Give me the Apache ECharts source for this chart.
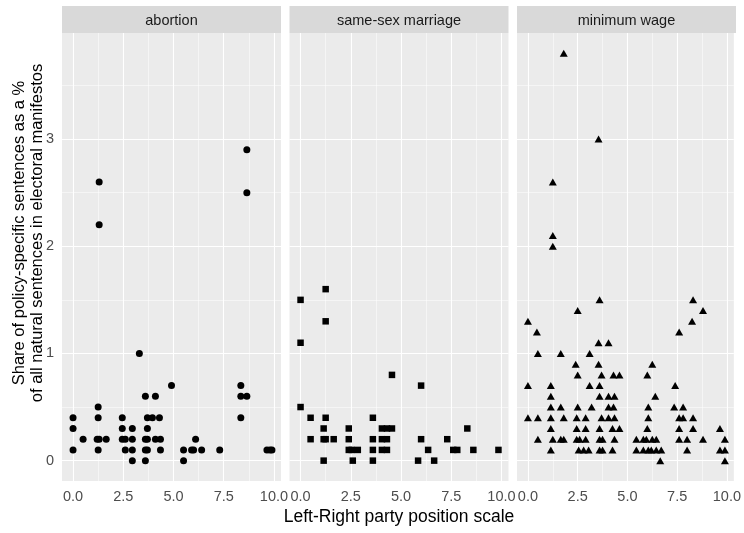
<!DOCTYPE html>
<html>
<head>
<meta charset="utf-8">
<script src="https://cdn.jsdelivr.net/npm/echarts@6/dist/echarts.min.js"></script>
<style>html,body{margin:0;padding:0;background:#fff}#c{width:744px;height:533px}</style>
</head>
<body>
<div id="c"></div>
<script>
const panelNames = ['abortion', 'same-sex marriage', 'minimum wage'];
const xMajor = [0, 2.5, 5, 7.5, 10];
const xMinor = [1.25, 3.75, 6.25, 8.75];
const yMajor = [0, 1, 2, 3];
const yMinor = [0.5, 1.5, 2.5, 3.5];

const abortion = [
  [1.3,2.6],[1.3,2.2],[8.65,2.9],[8.65,2.5],[3.3,1.0],[4.9,0.7],[8.35,0.7],
  [3.6,0.6],[4.1,0.6],[8.35,0.6],[8.65,0.6],
  [1.25,0.5],
  [0,0.4],[1.25,0.4],[2.45,0.4],[3.7,0.4],[3.95,0.4],[4.3,0.4],[8.35,0.4],
  [0,0.3],[2.45,0.3],[2.95,0.3],[3.7,0.3],
  [0.5,0.2],[1.2,0.2],[1.3,0.2],[1.65,0.2],[2.45,0.2],[2.6,0.2],[2.95,0.2],[3.6,0.2],[3.7,0.2],[4.1,0.2],[4.35,0.2],[6.1,0.2],
  [0,0.1],[1.25,0.1],[2.6,0.1],[2.95,0.1],[3.6,0.1],[3.7,0.1],[4.35,0.1],[5.5,0.1],[5.9,0.1],[6.0,0.1],[6.4,0.1],[7.3,0.1],[9.65,0.1],[9.8,0.1],[9.9,0.1],
  [2.95,0],[3.6,0],[5.5,0]
];

const sameSexMarriage = [
  [1.25,1.6],[0,1.5],[1.25,1.3],[0,1.1],[4.55,0.8],[6.0,0.7],[0,0.5],
  [0.5,0.4],[1.25,0.4],[3.6,0.4],
  [1.15,0.3],[2.4,0.3],[4.05,0.3],[4.3,0.3],[4.55,0.3],[8.3,0.3],
  [0.5,0.2],[1.15,0.2],[1.25,0.2],[1.65,0.2],[2.4,0.2],[3.6,0.2],[4.05,0.2],[4.3,0.2],[6.0,0.2],[7.3,0.2],
  [2.4,0.1],[2.55,0.1],[2.85,0.1],[3.6,0.1],[4.05,0.1],[4.3,0.1],[6.35,0.1],[7.6,0.1],[7.8,0.1],[8.6,0.1],[9.85,0.1],
  [1.15,0],[2.6,0],[3.6,0],[5.85,0],[6.65,0]
];

const minimumWage = [
  [1.8,3.8],[3.55,3.0],[1.25,2.6],[1.25,2.1],[1.25,2.0],
  [3.6,1.5],[8.3,1.5],[2.5,1.4],[8.8,1.4],[0,1.3],[8.25,1.3],[0.45,1.2],[7.6,1.2],
  [3.55,1.1],[4.05,1.1],
  [0.5,1.0],[1.65,1.0],[3.1,1.0],
  [2.4,0.9],[3.55,0.9],[6.25,0.9],
  [2.5,0.8],[3.7,0.8],[4.3,0.8],[4.6,0.8],[6.0,0.8],
  [0,0.7],[1.15,0.7],[3.1,0.7],[3.6,0.7],[7.4,0.7],
  [1.15,0.6],[3.6,0.6],[4.05,0.6],[4.35,0.6],[6.4,0.6],
  [1.15,0.5],[1.65,0.5],[2.5,0.5],[3.2,0.5],[4.05,0.5],[4.3,0.5],[6.05,0.5],[7.35,0.5],[7.8,0.5],
  [0,0.4],[0.5,0.4],[1.15,0.4],[1.8,0.4],[2.45,0.4],[2.9,0.4],[3.7,0.4],[4.05,0.4],[4.35,0.4],[6.05,0.4],[7.6,0.4],[7.8,0.4],[8.3,0.4],
  [1.15,0.3],[2.45,0.3],[2.9,0.3],[3.6,0.3],[4.25,0.3],[4.6,0.3],[6.0,0.3],[7.6,0.3],[8.3,0.3],[9.65,0.3],
  [0.5,0.2],[1.25,0.2],[1.65,0.2],[1.8,0.2],[2.45,0.2],[2.6,0.2],[2.9,0.2],[3.6,0.2],[3.75,0.2],[4.35,0.2],[5.45,0.2],[5.8,0.2],[5.95,0.2],[6.25,0.2],[6.45,0.2],[7.6,0.2],[8.0,0.2],[8.8,0.2],[9.9,0.2],
  [1.15,0.1],[2.55,0.1],[2.8,0.1],[3.05,0.1],[3.6,0.1],[3.75,0.1],[4.25,0.1],[5.45,0.1],[5.8,0.1],[6.05,0.1],[6.2,0.1],[6.45,0.1],[6.7,0.1],[8.0,0.1],[9.65,0.1],[9.9,0.1],
  [6.65,0],[9.9,0]
];

const panelData = [abortion, sameSexMarriage, minimumWage];
const symbols = ['circle', 'rect', 'triangle'];
const symbolSizes = [7, 6.5, [8, 7]];

const FONT = '"Liberation Sans", Arial, sans-serif';
const lefts = [62, 289.5, 517];
const W = 219, TOP = 33, H = 448;

const grids = [], xAxes = [], yAxes = [], series = [], graphics = [];
const gridLines = [];
xMajor.forEach(v => gridLines.push({xAxis: v, lineStyle: {width: 1.1}}));
xMinor.forEach(v => gridLines.push({xAxis: v, lineStyle: {width: 0.5}}));
yMajor.forEach(v => gridLines.push({yAxis: v, lineStyle: {width: 1.1}}));
yMinor.forEach(v => gridLines.push({yAxis: v, lineStyle: {width: 0.5}}));

for (let i = 0; i < 3; i++) {
  grids.push({left: lefts[i], top: TOP, width: W, height: H, show: true,
    backgroundColor: '#ebebeb', borderWidth: 0, containLabel: false});
  xAxes.push({type: 'value', gridIndex: i, min: -0.55, max: 10.35,
    axisLine: {show: false}, splitLine: {show: false},
    axisTick: {show: true, customValues: xMajor, length: 4, lineStyle: {color: '#333', width: 1}},
    axisLabel: {show: true, customValues: xMajor, margin: 8, color: '#4d4d4d', fontSize: 14.5, fontFamily: FONT,
      formatter: v => v.toFixed(1)}});
  yAxes.push({type: 'value', gridIndex: i, min: -0.19, max: 3.99,
    axisLine: {show: false}, splitLine: {show: false},
    axisTick: {show: i === 0, customValues: yMajor, length: 4, lineStyle: {color: '#333', width: 1}},
    axisLabel: {show: i === 0, customValues: yMajor, margin: 8, color: '#4d4d4d', fontSize: 14.5, fontFamily: FONT}});
  series.push({type: 'scatter', xAxisIndex: i, yAxisIndex: i, z: 3,
    data: panelData[i], symbol: symbols[i], symbolSize: symbolSizes[i],
    itemStyle: {color: '#000', opacity: 1}, silent: true,
    markLine: {silent: true, z: 1, symbol: ['none', 'none'], label: {show: false},
      lineStyle: {color: '#ffffff', type: 'solid'}, emphasis: {disabled: true},
      animation: false, data: gridLines}});
  graphics.push({type: 'rect', left: lefts[i], top: 6, shape: {width: W, height: 27},
    style: {fill: '#d9d9d9'}, silent: true});
  graphics.push({type: 'text', x: lefts[i] + W / 2, y: 20.5,
    style: {text: panelNames[i], fill: '#1a1a1a', font: '14.5px ' + FONT, textAlign: 'center', textVerticalAlign: 'middle'}});
}

graphics.push({type: 'text', x: (lefts[0] + lefts[2] + W) / 2, y: 517,
  style: {text: 'Left-Right party position scale', fill: '#000', font: '17.5px ' + FONT, textAlign: 'center', textVerticalAlign: 'middle'}});
graphics.push({type: 'text', x: 28, y: 233, rotation: Math.PI / 2,
  style: {text: 'Share of policy-specific sentences as a %\nof all natural sentences in electoral manifestos',
    fill: '#000', font: '16.5px ' + FONT, textAlign: 'center', textVerticalAlign: 'middle', lineHeight: 18}});

const chart = echarts.init(document.getElementById('c'), null, {renderer: 'canvas'});
chart.setOption({animation: false, grid: grids, xAxis: xAxes, yAxis: yAxes, series: series, graphic: graphics});
</script>
</body>
</html>
